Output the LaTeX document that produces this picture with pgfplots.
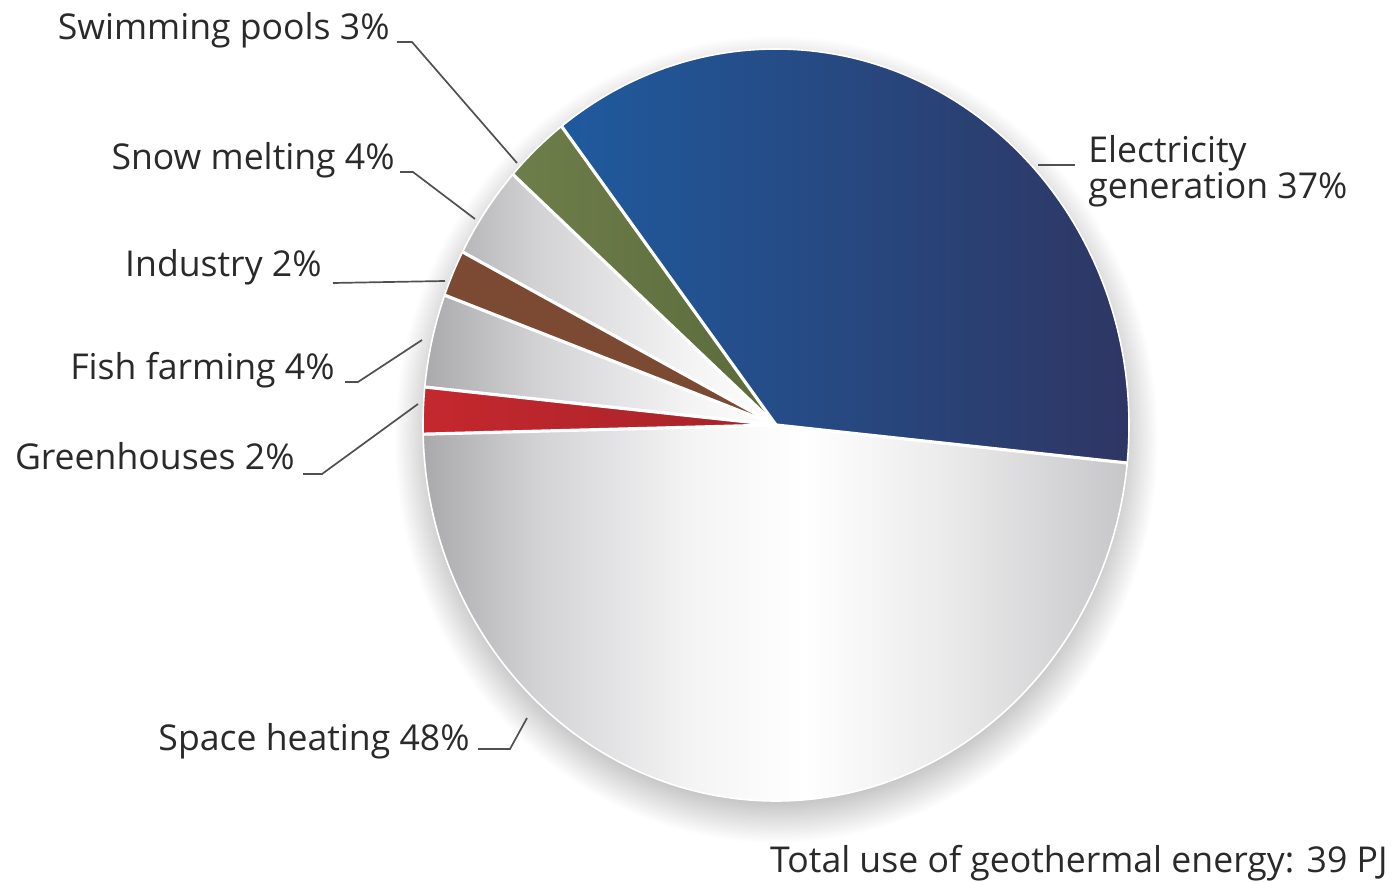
\documentclass[border=0pt]{standalone}
\usepackage{pgfplots}
\pgfplotsset{compat=1.18}
\usepackage{pgfplotstable}
\usepackage{fontspec}
\setmainfont{Open Sans}

\definecolor{elecL}{HTML}{1F5A9E}
\definecolor{elecR}{HTML}{2F3561}
\definecolor{swimL}{HTML}{6E7E4A}
\definecolor{swimR}{HTML}{5C6A3C}
\definecolor{indus}{HTML}{7C4A32}
\definecolor{greenL}{HTML}{C4282E}
\definecolor{greenR}{HTML}{A52328}
\definecolor{leader}{HTML}{505050}
\definecolor{txt}{HTML}{2A2A2A}
\definecolor{shd}{HTML}{BDBDBD}
\definecolor{g1}{HTML}{A9A9AC}
\definecolor{g2}{HTML}{D2D2D4}
\definecolor{g3}{HTML}{F4F4F5}
\definecolor{g4}{HTML}{EBEBEC}
\definecolor{g5}{HTML}{C6C6C8}

% grey-white-grey body of the pie, and a soft shadow under it
\pgfdeclarehorizontalshading{piebase}{100bp}{color(0bp)=(g1); color(25bp)=(g1);
  color(33bp)=(g2); color(44bp)=(g3); color(52bp)=(white); color(62bp)=(g4);
  color(75bp)=(g5); color(100bp)=(g5)}
\pgfdeclareradialshading{pieshadow}{\pgfpoint{0bp}{0bp}}{color(0bp)=(shd);
  color(22bp)=(shd); color(25bp)=(white); color(50bp)=(white)}

\tikzset{
  pie elec/.style={left color=elecL, right color=elecR},
  pie swim/.style={left color=swimL, right color=swimR},
  pie snow/.style={},
  pie indus/.style={fill=indus},
  pie fish/.style={},
  pie green/.style={left color=greenL, right color=greenR},
  pie space/.style={},
}

% share of total geothermal use, percent (counter-clockwise from electricity)
\pgfplotstableread{
slice pct
elec  37
swim  3
snow  4
indus 2
fish  4
green 2
space 48
}\piedata

\newcommand\lbl{\fontsize{17.8}{21}\selectfont}
\def\startang{-5.8}

\begin{document}
\begin{tikzpicture}
\begin{axis}[
    x=0.5pt, y=0.5pt,
    xmin=0, xmax=1394, ymin=0, ymax=882,
    y dir=reverse,
    hide axis,
    clip=false,
]
% keep the page the size of the axis
\path (axis cs:0,0) rectangle (axis cs:1394,882);
\pgfplotsextra{
  \coordinate (C) at (axis cs:776,425);
  \shade[shading=pieshadow] ([yshift=-7pt]C) ellipse[x radius=191pt, y radius=202pt];
  \shade[shading=piebase] (C) ellipse[x radius=176.5pt, y radius=188pt];
  \pgfplotstablegetrowsof{\piedata}
  \pgfmathtruncatemacro\lastrow{\pgfplotsretval-1}
  \xdef\angA{\startang}
  \foreach \i in {0,...,\lastrow}{
    \pgfplotstablegetelem{\i}{pct}\of\piedata
    \pgfmathsetmacro\angB{\angA+3.6*\pgfplotsretval}
    \pgfplotstablegetelem{\i}{slice}\of\piedata
    \edef\doslice{\noexpand\path[pie \pgfplotsretval]}
    \doslice (C) -- ++(\angA:176.5pt and 188pt) arc[start angle=\angA, end angle=\angB, x radius=176.5pt, y radius=188pt] -- cycle;
    \xdef\angA{\angB}
  }
  \xdef\angA{\startang}
  \foreach \i in {0,...,\lastrow}{
    \pgfplotstablegetelem{\i}{pct}\of\piedata
    \pgfmathsetmacro\angB{\angA+3.6*\pgfplotsretval}
    \draw[white, line width=1.6pt] (C) -- ++(\angA:176.5pt and 188pt);
    \xdef\angA{\angB}
  }
  \draw[white, line width=0.8pt] (C) ellipse[x radius=176.5pt, y radius=188pt];
}

% leader lines
\draw[leader, line width=0.85pt] (axis cs:397,42) -- (axis cs:412,42) -- (axis cs:517,163);
\draw[leader, line width=0.85pt] (axis cs:400,172) -- (axis cs:413,172) -- (axis cs:475,219);
\draw[leader, line width=0.85pt] (axis cs:333,283) -- (axis cs:445,281);
\draw[leader, line width=0.85pt] (axis cs:345,382) -- (axis cs:358,382) -- (axis cs:422,340);
\draw[leader, line width=0.85pt] (axis cs:303,474) -- (axis cs:322,474) -- (axis cs:418,404);
\draw[leader, line width=0.85pt] (axis cs:478,749) -- (axis cs:510,749) -- (axis cs:527,718);
\draw[leader, line width=0.85pt] (axis cs:1038,165) -- (axis cs:1075,165);

% labels
\node[anchor=base east, font=\lbl, text=txt, inner sep=0pt] at (axis cs:390,40) {Swimming pools 3\%};
\node[anchor=base east, font=\lbl, text=txt, inner sep=0pt] at (axis cs:395,170) {Snow melting 4\%};
\node[anchor=base east, font=\lbl, text=txt, inner sep=0pt] at (axis cs:322,277) {Industry 2\%};
\node[anchor=base east, font=\lbl, text=txt, inner sep=0pt] at (axis cs:335,380) {Fish farming 4\%};
\node[anchor=base east, font=\lbl, text=txt, inner sep=0pt] at (axis cs:295,470) {Greenhouses 2\%};
\node[anchor=base east, font=\lbl, text=txt, inner sep=0pt] at (axis cs:470,750) {Space heating 48\%};
\node[anchor=base west, font=\lbl, text=txt, inner sep=0pt] at (axis cs:1088,163) {Electricity};
\node[anchor=base west, font=\lbl, text=txt, inner sep=0pt] at (axis cs:1088,199) {generation 37\%};
\node[anchor=base east, font=\lbl, text=txt, inner sep=0pt] at (axis cs:1388,872) {Total use of geothermal energy: 39 PJ};
\end{axis}
\end{tikzpicture}
\end{document}
